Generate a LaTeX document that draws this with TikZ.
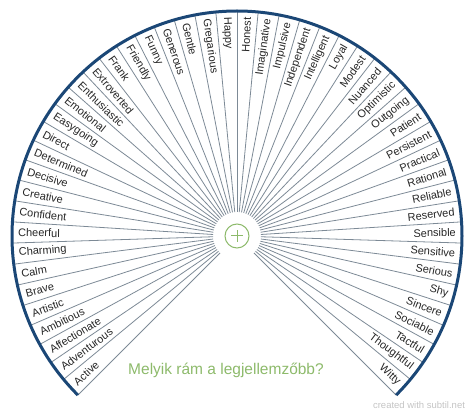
\documentclass[tikz,border=0pt]{standalone}
\usepackage{fontspec}
\setmainfont{Liberation Sans}
\usepackage{xcolor}

\definecolor{rimblue}{HTML}{1B4776}
\definecolor{spokegray}{HTML}{7D8A96}
\definecolor{pengreen}{HTML}{8DBA6B}
\definecolor{credgray}{HTML}{C4C4C4}

\begin{document}
\begin{tikzpicture}[x=1pt,y=1pt,
    spoke/.style={spokegray, line width=0.8pt},
    rim/.style={rimblue, line width=3pt},
    word/.style={inner sep=0pt, font=\fontsize{11}{13}\selectfont, text=black!85}]
       \useasboundingbox (0,0) rectangle (474,415);
       \coordinate (O) at (237,179);

       % spokes and rim
       \foreach \k in {0,...,50}
          \draw[spoke] (O) ++({225-5.4*\k}:24) -- ++({225-5.4*\k}:201);
       \draw[rim] (O) ++(225:225) arc[start angle=225, end angle=-45, radius=225];

       % the words, left half reads inwards, right half outwards
       \foreach \w [count=\i from 0] in {Active,Adventurous,Affectionate,Ambitious,Artistic,Brave,Calm,Charming,Cheerful,Confident,Creative,Decisive,Determined,Direct,Easygoing,Emotional,Enthusiastic,Extroverted,Frank,Friendly,Funny,Generous,Gentle,Gregarious,Happy,Honest,Imaginative,Impulsive,Independent,Intelligent,Loyal,Modest,Nuanced,Optimistic,Outgoing,Patient,Persistent,Practical,Rational,Reliable,Reserved,Sensible,Sensitive,Serious,Shy,Sincere,Sociable,Tactful,Thoughtful,Witty} {
          \pgfmathsetmacro{\ang}{225-5.4*(\i+0.5)}
          \ifnum\i<25
             \node[word, anchor=west, rotate=\ang+180] (w\i) at ([shift={(\ang:219)}]O) {\w};
          \else
             \node[word, anchor=east, rotate=\ang] (w\i) at ([shift={(\ang:219)}]O) {\w};
          \fi
       }

       \node[draw=pengreen, circle, line width=1pt, minimum size=24pt, inner sep=0pt] (plus) at (O) {};
       \draw[pengreen, line width=1pt] (plus.center) ++(-6,0) -- ++(12,0);
       \draw[pengreen, line width=1pt] (plus.center) ++(0,-6) -- ++(0,12);

       \node[text=pengreen, font=\fontsize{15.5}{18}\selectfont] (question) at (226,45) {Melyik rám a legjellemzőbb?};
       \node[text=credgray, font=\fontsize{9.5}{11}\selectfont] (credit) at (419,10) {created with subtil.net};
    \end{tikzpicture}
\end{document}
